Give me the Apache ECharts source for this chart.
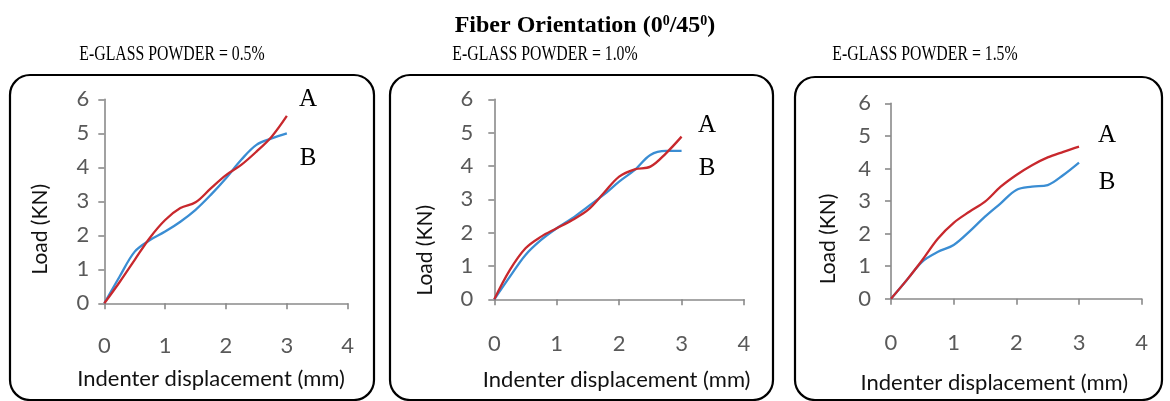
<!DOCTYPE html>
<html>
<head>
<meta charset="utf-8">
<script src="https://cdn.jsdelivr.net/npm/echarts@6/dist/echarts.min.js"></script>
<style>
html,body{margin:0;padding:0;background:#fff;}
#chart{width:1170px;height:401px;}
</style>
</head>
<body>
<div id="chart"></div>
<script>
// ---- data ----
const displacement = [0, 0.25, 0.5, 0.75, 1, 1.25, 1.5, 1.75, 2, 2.25, 2.5, 2.75, 3];
const xTicks = [0, 1, 2, 3, 4];
const yTicks = [0, 1, 2, 3, 4, 5, 6];
const panelTitles = ['E-GLASS POWDER = 0.5%', 'E-GLASS POWDER = 1.0%', 'E-GLASS POWDER = 1.5%'];
const loadA_05 = [0, 0.62, 1.28, 1.93, 2.45, 2.80, 2.97, 3.38, 3.77, 4.07, 4.46, 4.90, 5.51];
const loadB_05 = [0, 0.78, 1.52, 1.86, 2.11, 2.40, 2.75, 3.19, 3.68, 4.22, 4.66, 4.85, 5.00];
const loadA_10 = [0, 0.88, 1.53, 1.88, 2.13, 2.38, 2.68, 3.18, 3.68, 3.90, 3.98, 4.38, 4.88];
const loadB_10 = [0, 0.68, 1.33, 1.78, 2.13, 2.43, 2.78, 3.13, 3.53, 3.88, 4.33, 4.45, 4.45];
const loadA_15 = [0, 0.57, 1.19, 1.85, 2.33, 2.67, 2.98, 3.44, 3.80, 4.10, 4.34, 4.51, 4.67];
const loadB_15 = [0, 0.57, 1.14, 1.44, 1.65, 2.06, 2.52, 2.93, 3.34, 3.44, 3.49, 3.80, 4.18];
const seriesNames = ['A', 'B'];

// ---- layout ----
const grids = [
  {left: 104.3, top: 99.3, width: 243.4, height: 204},
  {left: 494.3, top: 99.3, width: 249.7, height: 200},
  {left: 891, top: 103.3, width: 250.7, height: 195.4}
];
const xLabelMargin = [32, 34, 33];
const yLabelMargin = [15, 21, 20];
const xNameGap = [65, 70, 73];
const xNameShift = [30, 5, 44];
const yNameGap = [54, 59, 52];
const yNameShift = [56, 102, 76];
const boxes = [
  {x: 10, y: 75, w: 364, h: 325},
  {x: 390, y: 75, w: 383, h: 325},
  {x: 795, y: 77, w: 367, h: 323}
];
const letterPos = [
  {ax: 308, ay: 99, by: 158},
  {ax: 707, ay: 125, by: 168},
  {ax: 1107, ay: 135, by: 182}
];
const subCenters = [172, 545, 925];

const colA = '#c8282d';
const colB = '#3a8dd3';
const axisCol = '#8a8a8a';
const labelFont = 'Lato, "Open Sans", sans-serif';
const serif = '"Liberation Serif", "DejaVu Serif", serif';

const dataSets = [[loadA_05, loadB_05], [loadA_10, loadB_10], [loadA_15, loadB_15]];

const xAxes = grids.map((g, i) => ({
  type: 'value', gridIndex: i, min: xTicks[0], max: xTicks[xTicks.length - 1], interval: 1,
  name: 'Indenter displacement (mm)', nameLocation: 'middle', nameGap: xNameGap[i],
  nameTextStyle: {fontFamily: labelFont, fontSize: 22, color: '#111', padding: [0, xNameShift[i], 0, 0]},
  axisLine: {show: true, lineStyle: {color: axisCol, width: 1.6}},
  axisTick: {show: true, inside: false, length: 6, lineStyle: {color: axisCol, width: 1.6}},
  axisLabel: {fontFamily: labelFont, fontSize: 22, color: '#595959', margin: xLabelMargin[i]},
  splitLine: {show: false}
}));
const yAxes = grids.map((g, i) => ({
  type: 'value', gridIndex: i, min: yTicks[0], max: yTicks[yTicks.length - 1], interval: 1,
  name: 'Load (KN)', nameLocation: 'middle', nameGap: yNameGap[i], nameRotate: 90,
  nameTextStyle: {fontFamily: labelFont, fontSize: 21, color: '#111', padding: [0, yNameShift[i], 0, 0]},
  axisLine: {show: true, lineStyle: {color: axisCol, width: 1.6}},
  axisTick: {show: true, inside: false, length: 6, lineStyle: {color: axisCol, width: 1.6}},
  axisLabel: {fontFamily: labelFont, fontSize: 22, color: '#595959', margin: yLabelMargin[i]},
  splitLine: {show: false}
}));

const series = [];
dataSets.forEach((pair, i) => {
  [1, 0].forEach(k => {
    series.push({
      type: 'line', name: seriesNames[k] + (i + 1), xAxisIndex: i, yAxisIndex: i,
      data: displacement.map((x, j) => [x, pair[k][j]]),
      smooth: 0.35, showSymbol: false, symbol: 'none',
      lineStyle: {color: k === 0 ? colA : colB, width: 2.3},
      itemStyle: {color: k === 0 ? colA : colB},
      animation: false, z: k === 0 ? 3 : 2
    });
  });
});

const graphics = [];
boxes.forEach(b => graphics.push({
  type: 'rect', shape: {x: b.x, y: b.y, width: b.w, height: b.h, r: 20},
  style: {fill: 'none', stroke: '#000', lineWidth: 2.2}, z: 1
}));
letterPos.forEach(p => {
  graphics.push({type: 'text', x: p.ax, y: p.ay, style: {text: seriesNames[0], font: '25px ' + serif, fill: '#000', align: 'center', verticalAlign: 'middle'}});
  graphics.push({type: 'text', x: p.ax, y: p.by, style: {text: seriesNames[1], font: '25px ' + serif, fill: '#000', align: 'center', verticalAlign: 'middle'}});
});
panelTitles.forEach((t, i) => graphics.push({
  type: 'text', x: subCenters[i], y: 55, scaleX: 0.79,
  style: {text: t, font: '20px ' + serif, fill: '#000', align: 'center', verticalAlign: 'middle'}
}));

const chart = echarts.init(document.getElementById('chart'), null, {renderer: 'canvas'});
chart.setOption({
  backgroundColor: '#fff',
  animation: false,
  title: {
    text: 'Fiber Orientation (0{s|0}/45{s|0})',
    left: 'center', top: 9,
    textStyle: {
      fontFamily: serif, fontWeight: 'bold', fontSize: 24, color: '#000',
      rich: {s: {fontFamily: serif, fontWeight: 'bold', fontSize: 14, color: '#000', verticalAlign: 'top', padding: [0, 0, 10, 0]}}
    }
  },
  grid: grids.map(g => Object.assign({containLabel: false}, g)),
  xAxis: xAxes,
  yAxis: yAxes,
  series: series,
  graphic: graphics
});
</script>
</body>
</html>
